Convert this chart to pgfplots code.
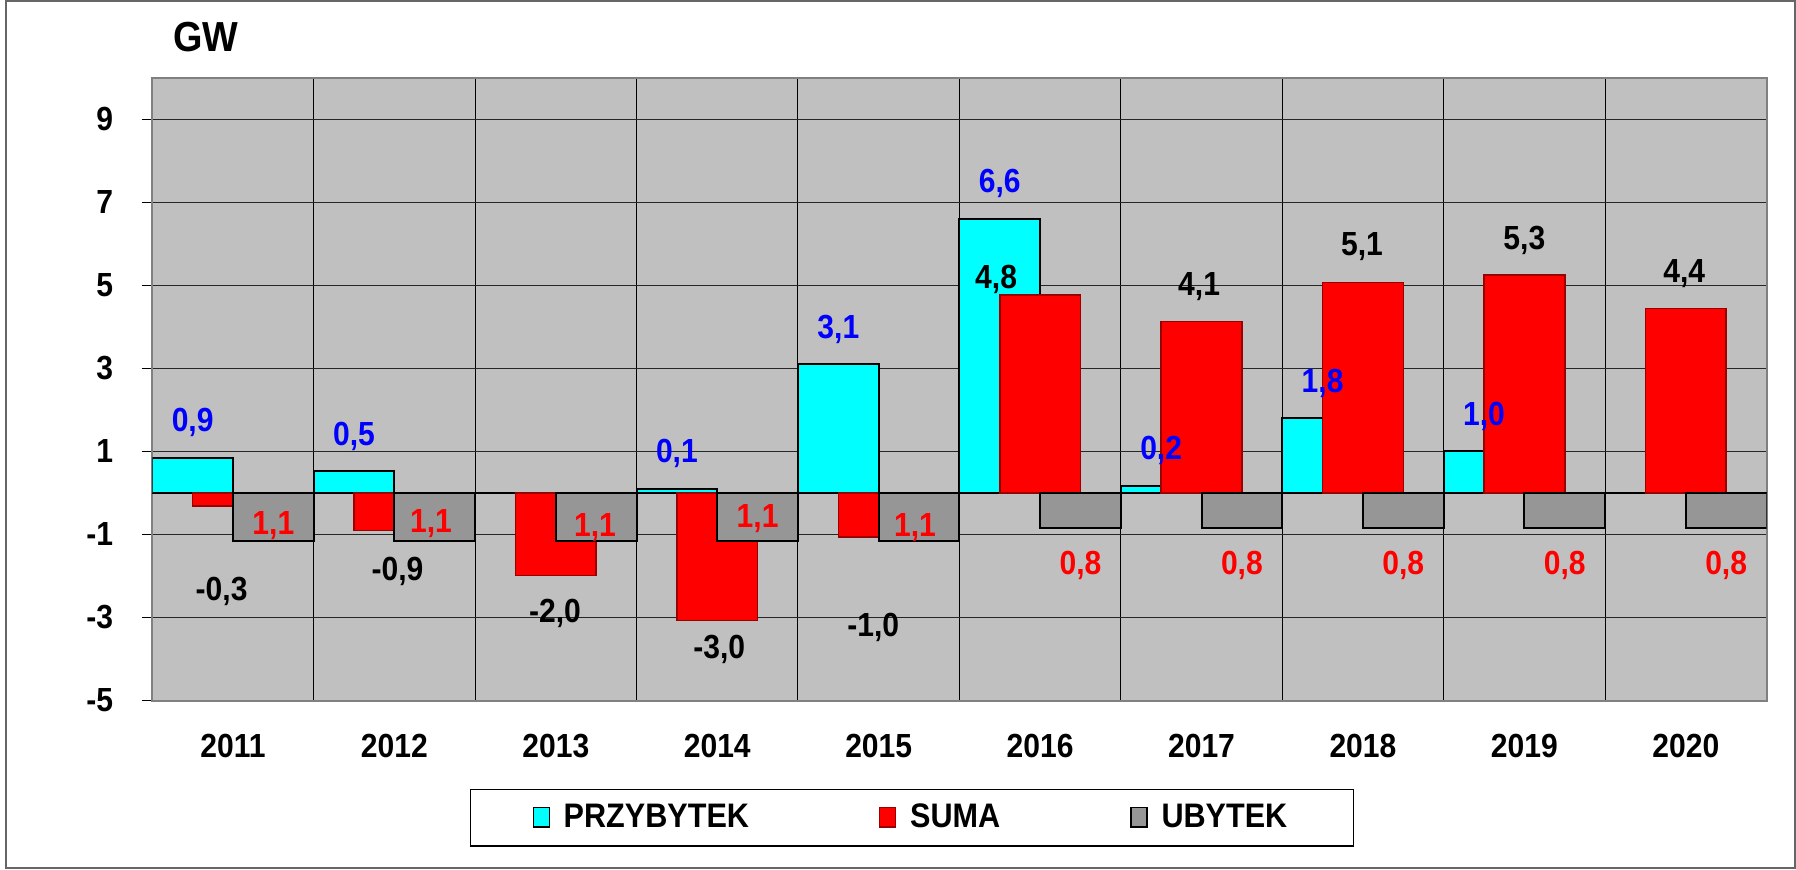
\documentclass[border=0pt]{standalone}
\usepackage{fontspec}
\setmainfont{Liberation Sans}[FakeStretch=0.9]
\usepackage{pgfplots}
\usepackage{pgfplotstable}
\pgfplotsset{compat=1.18}

\definecolor{plotbg}{HTML}{C0C0C0}
\definecolor{ubytek}{HTML}{969696}
\definecolor{przybytek}{HTML}{00FFFF}
\definecolor{suma}{HTML}{FF0000}
\definecolor{sumaedge}{HTML}{990000}
\definecolor{lblblue}{HTML}{0000FF}

\newcommand\lbl{\fontsize{16.7}{19}\selectfont\bfseries}

\pgfplotsset{
    barlegend/.style={legend image code/.code={\draw[##1, line width=0.7pt] (0pt,-4.8pt) rectangle (8pt,5pt);}},
    barlabel/.style 2 args={every node near coord/.append style={anchor=center, font=\lbl, text=#1, xshift=\ldx pt + #2, yshift=\ldy pt}},
}

% x = year index (0 = 2011), y = value in GW, lab = data label, dx/dy = label offset (pt)
\pgfplotstableread{
x y lab dx dy
0 0.85 0,9 0 17.5
1 0.53 0,5 0 17.5
3 0.10 0,1 0 17.5
4 3.10 3,1 0 17.5
5 6.61 6,6 0 17.5
6 0.18 0,2 0 17.5
7 1.80 1,8 0 17.5
8 1.00 1,0 0 17.5
}\przybytek

\pgfplotstableread{
x y lab dx dy
0 -0.32 -0,3 -5.7 -42.5
1 -0.90 -0,9 1.5 -20.5
2 -1.99 -2,0 -0.4 -19
3 -3.07 -3,0 1 -14.5
4 -1.06 -1,0 -2.7 -45.3
5 4.77 4,8 -22 7.7
6 4.13 4,1 -1.2 17.5
7 5.07 5,1 -0.5 18
8 5.25 5,3 0 17.5
9 4.45 4,4 -0.8 17.5
}\suma

\pgfplotstableread{
x y lab dx dy
0 -1.15 1,1 0 7.7
1 -1.15 1,1 -1.9 8.5
2 -1.15 1,1 -0.6 6.8
3 -1.15 1,1 0 11
4 -1.15 1,1 -2 6.7
5 -0.85 0,8 0 -18.5
6 -0.85 0,8 0 -18.5
7 -0.85 0,8 0 -18.5
8 -0.85 0,8 0 -18.5
9 -0.85 0,8 0 -18.5
}\ubytek

\begin{document}
\begin{tikzpicture}
\path[use as bounding box] (0,0) rectangle (898pt,434.5pt);
\draw[black!60, line width=0.75pt] (2.9pt,0.5pt) rectangle (897.5pt,434pt);
\begin{axis}[
    at={(76.15pt,84.25pt)}, anchor=south west,
    scale only axis,
    width=807.1pt, height=311.25pt,
    xmin=-0.5, xmax=9.5,
    ymin=-5, ymax=10,
    axis background/.style={fill=plotbg},
    axis line style={draw=black!50, line width=1pt},
    xtick={0,...,9},
    xticklabels={2011,2012,2013,2014,2015,2016,2017,2018,2019,2020},
    xtick style={draw=none},
    minor xtick={0.5,1.5,...,8.5},
    xminorgrids,
    minor x grid style={black, line width=0.5pt},
    ytick={-5,-3,...,9},
    ytick pos=left,
    ymajorgrids,
    major grid style={black!85, line width=0.5pt},
    ytick style={black, line width=0.6pt},
    tick align=outside,
    major tick length=5.3pt,
    extra y ticks={0},
    extra y tick labels={},
    extra y tick style={ymajorgrids, major grid style={black, line width=0.7pt}, major tick length=0pt},
    tick label style={font=\lbl},
    /pgf/number format/assume math mode=true,
    yticklabel style={anchor=east, inner sep=0pt, xshift=-14.15pt},
    xticklabel style={anchor=center, inner sep=0pt, yshift=-17.25pt},
    title={GW},
    title style={at={(0.033,1.066)}, anchor=center, yshift=-6pt, font=\fontsize{21}{24}\selectfont\bfseries},
    legend columns=3,
    legend cell align=left,
    legend style={at={(0.4706,-0.188)}, anchor=center, draw=black, line width=0.6pt,
        fill=white, font=\fontsize{17}{20}\selectfont\bfseries,
        inner xsep=31pt, inner ysep=5.5pt,
        /tikz/every even column/.append style={column sep=63pt},
        /tikz/every odd column/.append style={column sep=4.9pt}},
    point meta=explicit symbolic,
    nodes near coords={\pgfplotspointmeta},
    visualization depends on={\thisrow{dx} \as \ldx},
    visualization depends on={\thisrow{dy} \as \ldy},
]
\addplot[ybar, bar width=0.5, bar shift=-0.25, fill=przybytek, draw=black, line width=1pt,
    barlegend, barlabel={lblblue}{-20.18pt}]
    table[x=x, y=y, meta=lab] {\przybytek};
\addlegendentry{PRZYBYTEK}
\addplot[ybar, bar width=0.5, bar shift=0, fill=suma, draw=sumaedge, line width=0.8pt,
    barlegend, barlabel={black}{0pt}]
    table[x=x, y=y, meta=lab] {\suma};
\addlegendentry{SUMA}
\addplot[ybar, bar width=0.5, bar shift=0.25, fill=ubytek, draw=black, line width=1pt,
    barlegend, barlabel={suma}{20.18pt}]
    table[x=x, y=y, meta=lab] {\ubytek};
\addlegendentry{UBYTEK}
\end{axis}
\end{tikzpicture}
\end{document}
